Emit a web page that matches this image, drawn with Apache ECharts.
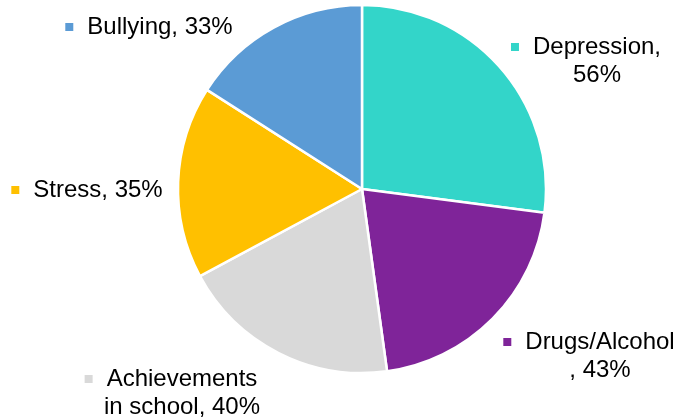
<!DOCTYPE html>
<html>
<head>
<meta charset="utf-8">
<style>
  html, body { margin: 0; padding: 0; background: #ffffff; }
  #chart { width: 686px; height: 419px; }
</style>
<script src="https://cdn.jsdelivr.net/npm/echarts@6/dist/echarts.min.js"></script>
</head>
<body>
<div id="chart"></div>
<script>
// Share of respondents naming each issue
const categories = ['Depression', 'Drugs/Alcohol', 'Achievements in school', 'Stress', 'Bullying'];
const values = [56, 43, 40, 35, 33];
// Label text lines for each slice (line breaks as in the legend-style callouts)
const labelLines = [
  ['Depression,', '56%'],
  ['Drugs/Alcohol', ', 43%'],
  ['Achievements', 'in school, 40%'],
  ['Stress, 35%'],
  ['Bullying, 33%']
];
const colors = ['#33D5C9', '#7F2499', '#D9D9D9', '#FFC000', '#5B9BD5'];

// Centre of each callout block, in pixels
const labelAnchors = [
  [586, 61],
  [589, 356],
  [171, 393],
  [87, 190],
  [149, 27]
];

const chart = echarts.init(document.getElementById('chart'), null, { renderer: 'canvas' });

const data = categories.map((name, i) => {
  const lines = labelLines[i];
  const text = lines.map((ln, k) => (k === 0 ? '{sq|}' : '{sp|}') + '{gap|}{t|' + ln + '}').join('\n');
  return {
    name: name,
    value: values[i],
    itemStyle: { color: colors[i] },
    label: {
      formatter: text,
      rich: {
        sq: { width: 8, height: 8, backgroundColor: colors[i] },
        sp: { width: 8, height: 8 },
        gap: { width: 14 },
        t: { fontSize: 24, lineHeight: 28, color: '#000000', fontFamily: 'Liberation Sans, Arial, sans-serif' }
      }
    }
  };
});

chart.setOption({
  animation: false,
  series: [{
    type: 'pie',
    center: [362, 189],
    radius: [0, 184],
    startAngle: 90,
    clockwise: true,
    avoidLabelOverlap: false,
    itemStyle: { borderColor: '#ffffff', borderWidth: 2.5 },
    label: {
      show: true,
      position: 'outside',
      align: 'center',
      fontFamily: 'Liberation Sans, Arial, sans-serif',
      fontSize: 24,
      lineHeight: 28,
      color: '#000000'
    },
    labelLine: { show: false },
    labelLayout: function (params) {
      const a = labelAnchors[params.dataIndex];
      return { x: a[0], y: a[1], align: 'center', verticalAlign: 'middle' };
    },
    emphasis: { disabled: true },
    data: data
  }]
});
</script>
</body>
</html>
